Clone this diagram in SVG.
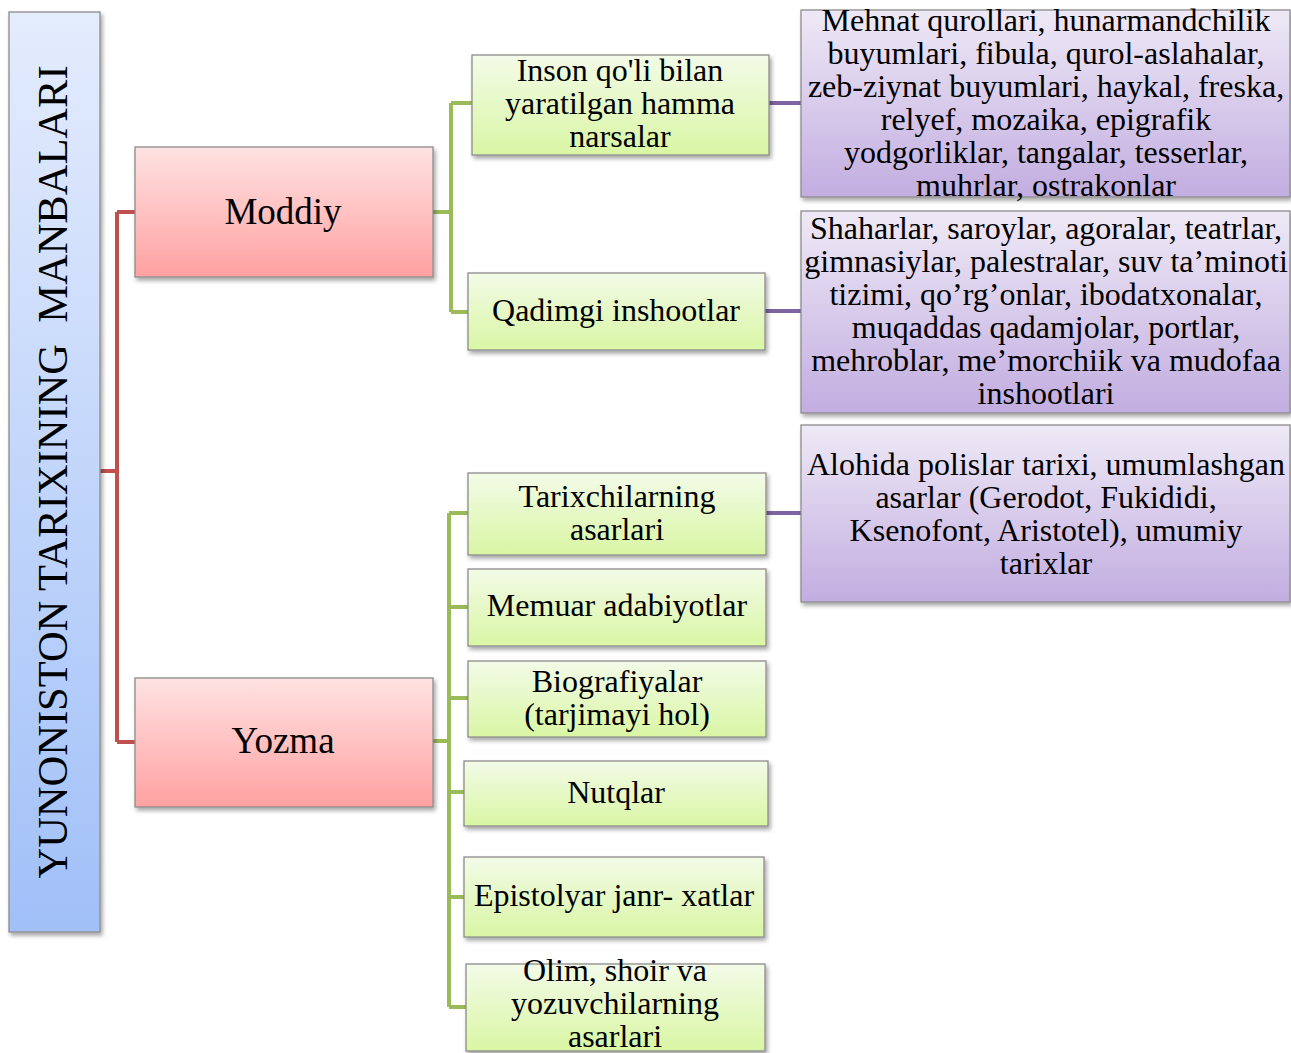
<svg xmlns="http://www.w3.org/2000/svg" width="1291" height="1053" viewBox="0 0 1291 1053">
<defs>
<linearGradient id="gBlue" x1="0" y1="0" x2="0" y2="1"><stop offset="0" stop-color="#e4ecfd"/><stop offset="1" stop-color="#a1c0f8"/></linearGradient>
<linearGradient id="gPink" x1="0" y1="0" x2="0" y2="1"><stop offset="0" stop-color="#ffe2e2"/><stop offset="1" stop-color="#ffa1a1"/></linearGradient>
<linearGradient id="gGreen" x1="0" y1="0" x2="0" y2="1"><stop offset="0" stop-color="#f3fbe8"/><stop offset="1" stop-color="#d9f6a4"/></linearGradient>
<linearGradient id="gPurple" x1="0" y1="0" x2="0" y2="1"><stop offset="0" stop-color="#eee9f6"/><stop offset="1" stop-color="#c2ade0"/></linearGradient>
<filter id="sh" x="-10%" y="-10%" width="120%" height="130%"><feDropShadow dx="2" dy="3" stdDeviation="2" flood-color="#000" flood-opacity="0.35"/></filter>
</defs>
<style>
.box{stroke:#8c8c8c;stroke-width:1.3;filter:url(#sh)}
.blue{fill:url(#gBlue)}
.pink{fill:url(#gPink)}
.green{fill:url(#gGreen)}
.purple{fill:url(#gPurple)}
text{font-family:"Liberation Serif","Times New Roman",serif;fill:#000;text-anchor:middle}
.t32{font-size:32px}
.t37{font-size:37px}
.t42{font-size:42.5px}
.red{stroke:#c0504d;stroke-width:4;fill:none}
.grn{stroke:#9bbb59;stroke-width:4;fill:none}
.vio{stroke:#8064a2;stroke-width:4;fill:none}
</style>
<g id="connectors">
<path class="red" d="M100,471 H117 M117,212 V742 M117,212 H135 M117,742 H135"/>
<path class="grn" d="M433,212 H451 M451,103 V312 M451,103 H472 M451,312 H468"/>
<path class="grn" d="M433,741 H449 M449,513 V1007 M449,513 H468 M449,607 H468 M449,698 H468 M449,792 H464 M449,897 H464 M449,1007 H466"/>
<path class="vio" d="M769,103 H801 M765,311 H801 M766,513 H801"/>
</g>
<g id="root"><rect class="box blue" x="9" y="12" width="91" height="920"/>
<text class="t42" transform="translate(67,472) rotate(-90)" xml:space="preserve">YUNONISTON TARIXINING  MANBALARI</text></g>
<g id="moddiy"><rect class="box pink" x="135" y="147" width="298" height="130"/><text class="t37" x="283" y="224">Moddiy</text></g>
<g id="yozma"><rect class="box pink" x="135" y="678" width="298" height="129"/><text class="t37" x="283" y="753">Yozma</text></g>
<g id="inson"><rect class="box green" x="472" y="55" width="297" height="100"/><text class="t32" x="620" y="81">Inson qo'li bilan</text><text class="t32" x="620" y="114">yaratilgan hamma</text><text class="t32" x="620" y="147">narsalar</text></g>
<g id="qadimgi"><rect class="box green" x="468" y="273" width="297" height="77"/><text class="t32" x="616" y="321">Qadimgi inshootlar</text></g>
<g id="tarix"><rect class="box green" x="468" y="473" width="298" height="82"/><text class="t32" x="617" y="507">Tarixchilarning</text><text class="t32" x="617" y="540">asarlari</text></g>
<g id="memuar"><rect class="box green" x="468" y="569" width="298" height="77"/><text class="t32" x="617" y="616">Memuar adabiyotlar</text></g>
<g id="biograf"><rect class="box green" x="468" y="661" width="298" height="76"/><text class="t32" x="617" y="692">Biografiyalar</text><text class="t32" x="617" y="725">(tarjimayi hol)</text></g>
<g id="nutqlar"><rect class="box green" x="464" y="761" width="304" height="65"/><text class="t32" x="616" y="803">Nutqlar</text></g>
<g id="epistolyar"><rect class="box green" x="464" y="857" width="300" height="80"/><text class="t32" x="614" y="906">Epistolyar janr- xatlar</text></g>
<g id="olim"><rect class="box green" x="466" y="964" width="299" height="87"/><text class="t32" x="615" y="981">Olim, shoir va</text><text class="t32" x="615" y="1014">yozuvchilarning</text><text class="t32" x="615" y="1047">asarlari</text></g>
<g id="p1"><rect class="box purple" x="801" y="10" width="489" height="187"/>
<text class="t32" x="1046" y="31">Mehnat qurollari, hunarmandchilik</text><text class="t32" x="1046" y="64">buyumlari, fibula, qurol-aslahalar,</text><text class="t32" x="1046" y="97">zeb-ziynat buyumlari, haykal, freska,</text><text class="t32" x="1046" y="130">relyef, mozaika, epigrafik</text><text class="t32" x="1046" y="163">yodgorliklar, tangalar, tesserlar,</text><text class="t32" x="1046" y="196">muhrlar, ostrakonlar</text></g>
<g id="p2"><rect class="box purple" x="801" y="211" width="489" height="202"/>
<text class="t32" x="1046" y="239">Shaharlar, saroylar, agoralar, teatrlar,</text><text class="t32" x="1046" y="272">gimnasiylar, palestralar, suv ta’minoti</text><text class="t32" x="1046" y="305">tizimi, qo’rg’onlar, ibodatxonalar,</text><text class="t32" x="1046" y="338">muqaddas qadamjolar, portlar,</text><text class="t32" x="1046" y="371">mehroblar, me’morchiik va mudofaa</text><text class="t32" x="1046" y="404">inshootlari</text></g>
<g id="p3"><rect class="box purple" x="801" y="425" width="489" height="177"/>
<text class="t32" x="1046" y="475">Alohida polislar tarixi, umumlashgan</text><text class="t32" x="1046" y="508">asarlar (Gerodot, Fukididi,</text><text class="t32" x="1046" y="541">Ksenofont, Aristotel), umumiy</text><text class="t32" x="1046" y="574">tarixlar</text></g>
</svg>
